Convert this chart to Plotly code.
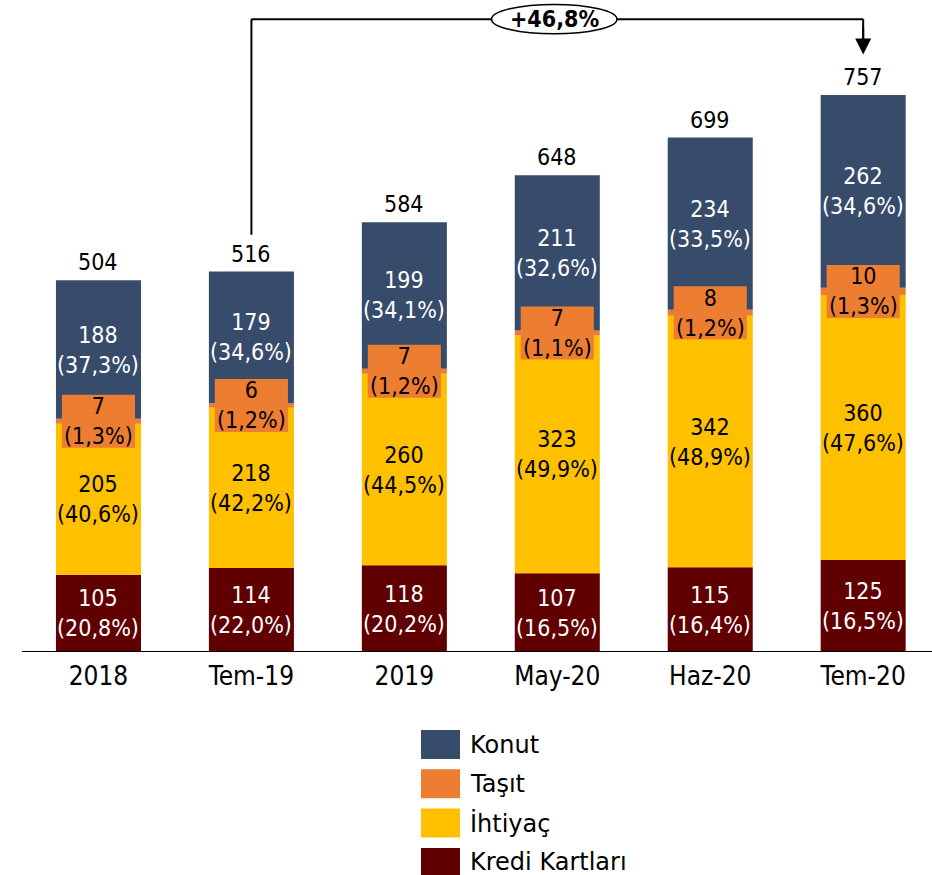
import plotly.graph_objects as go

# --- data -------------------------------------------------------------
categories = ["2018", "Tem-19", "2019", "May-20", "Haz-20", "Tem-20"]

kredi = [105, 114, 118, 107, 115, 125]
ihtiyac = [205, 218, 260, 323, 342, 360]
tasit = [7, 6, 7, 7, 8, 10]
konut = [188, 179, 199, 211, 234, 262]
totals = [504, 516, 584, 648, 699, 757]

kredi_pct = ["20,8", "22,0", "20,2", "16,5", "16,4", "16,5"]
ihtiyac_pct = ["40,6", "42,2", "44,5", "49,9", "48,9", "47,6"]
tasit_pct = ["1,3", "1,2", "1,2", "1,1", "1,2", "1,3"]
konut_pct = ["37,3", "34,6", "34,1", "32,6", "33,5", "34,6"]

growth_label = "+46,8%"
growth_from, growth_to = 1, 5  # Tem-19 -> Tem-20

# --- styling ----------------------------------------------------------
NUM_FONT = "DejaVu Sans Condensed, DejaVu Sans, sans-serif"
TXT_FONT = "DejaVu Sans, sans-serif"
C_KONUT = "#374B6B"
C_TASIT = "#ED7D31"
C_IHTIYAC = "#FFC000"
C_KREDI = "#600000"

series = [
    ("Kredi Kartları", kredi, kredi_pct, C_KREDI, "white"),
    ("İhtiyaç", ihtiyac, ihtiyac_pct, C_IHTIYAC, "black"),
    ("Taşıt", tasit, tasit_pct, C_TASIT, "black"),
    ("Konut", konut, konut_pct, C_KONUT, "white"),
]

x = list(range(len(categories)))
BAR_W = 0.556
LABEL_SIZE = 23

fig = go.Figure()
annotations = []
shapes = []

base = [0] * len(categories)
for name, vals, pcts, color, tcolor in series:
    fig.add_trace(go.Bar(
        x=x, y=vals, base=base, name=name, width=BAR_W,
        marker=dict(color=color, line=dict(width=0)),
        showlegend=False, hoverinfo="skip",
    ))
    for i, (v, p) in enumerate(zip(vals, pcts)):
        mid = base[i] + v / 2
        if name == "Taşıt":
            # small segment: value sits in an orange box over the bar
            shapes.append(dict(
                type="rect", xref="x", yref="y", layer="above",
                x0=i - 0.239, x1=i + 0.239, y0=mid - 36, y1=mid + 36,
                fillcolor=C_TASIT, line=dict(width=0),
            ))
        annotations.append(dict(
            x=i, y=mid, xref="x", yref="y", text=f"{v}<br>({p}%)",
            showarrow=False, yanchor="middle",
            font=dict(family=NUM_FONT, size=LABEL_SIZE, color=tcolor),
        ))
    base = [b + v for b, v in zip(base, vals)]

# totals above each bar
for i, t in enumerate(totals):
    annotations.append(dict(
        x=i, y=base[i], xref="x", yref="y", text=str(t), showarrow=False,
        yanchor="bottom", yshift=3,
        font=dict(family=NUM_FONT, size=LABEL_SIZE, color="black"),
    ))

# growth bracket Tem-19 -> Tem-20
y_line = 860
y_start = base[growth_from] + 50
y_tip = base[growth_to] + 55
for x0, y0, x1, y1 in (
    (growth_from, y_start, growth_from, y_line),
    (growth_from, y_line, growth_to, y_line),
    (growth_to, y_line, growth_to, y_tip + 18),
):
    shapes.append(dict(type="line", xref="x", yref="y", x0=x0, y0=y0,
                       x1=x1, y1=y1, line=dict(color="black", width=2)))
annotations.append(dict(
    x=growth_to, y=y_tip, ax=growth_to, ay=y_line - 10, xref="x", yref="y",
    axref="x", ayref="y", text="", showarrow=True, arrowhead=2,
    arrowsize=1.6, arrowwidth=2, arrowcolor="black",
))
x_mid = (growth_from + growth_to) / 2 - 0.02
shapes.append(dict(
    type="circle", xref="x", yref="y", layer="above",
    x0=x_mid - 0.41, x1=x_mid + 0.41, y0=y_line - 20, y1=y_line + 20,
    fillcolor="white", line=dict(color="black", width=1.5),
))
annotations.append(dict(
    x=x_mid, y=y_line, xref="x", yref="y", text=f"<b>{growth_label}</b>",
    showarrow=False, yanchor="middle",
    font=dict(family=NUM_FONT, size=23, color="black"),
))

# legend (top-to-bottom: Konut, Taşıt, İhtiyaç, Kredi Kartları)
PLOT_H = 652
PLOT_L, PLOT_W = 22, 910


def px_x(v):
    return (v - PLOT_L) / PLOT_W


def px_y(v):
    return (PLOT_H - v) / PLOT_H


for k, (name, _, _, color, _) in enumerate(reversed(series)):
    top = 730 + k * 39.3
    shapes.append(dict(
        type="rect", xref="paper", yref="paper",
        x0=px_x(421), x1=px_x(460), y0=px_y(top + 29), y1=px_y(top),
        fillcolor=color, line=dict(width=0),
    ))
    annotations.append(dict(
        x=px_x(468), y=px_y(top + 14.5), xref="paper", yref="paper",
        text=name, showarrow=False, xanchor="left", yanchor="middle",
        font=dict(family=TXT_FONT, size=24, color="black"),
    ))

fig.update_layout(
    width=932, height=875,
    margin=dict(l=PLOT_L, r=0, t=0, b=875 - PLOT_H),
    paper_bgcolor="white", plot_bgcolor="white",
    barmode="overlay", showlegend=False,
    annotations=annotations, shapes=shapes,
    xaxis=dict(
        range=[-0.5, 5.45], tickmode="array", tickvals=x, ticktext=categories,
        showgrid=False, zeroline=False, showline=False, ticks="",
        ticklabelstandoff=6,
        tickfont=dict(family=NUM_FONT, size=26, color="black"),
        fixedrange=True,
    ),
    yaxis=dict(
        range=[0, 886], visible=False, showgrid=False, zeroline=False,
        fixedrange=True,
    ),
)
# baseline
fig.add_shape(type="line", xref="paper", yref="y", x0=0, x1=1, y0=0, y1=0,
              line=dict(color="black", width=2))

fig.write_html("out.html")
